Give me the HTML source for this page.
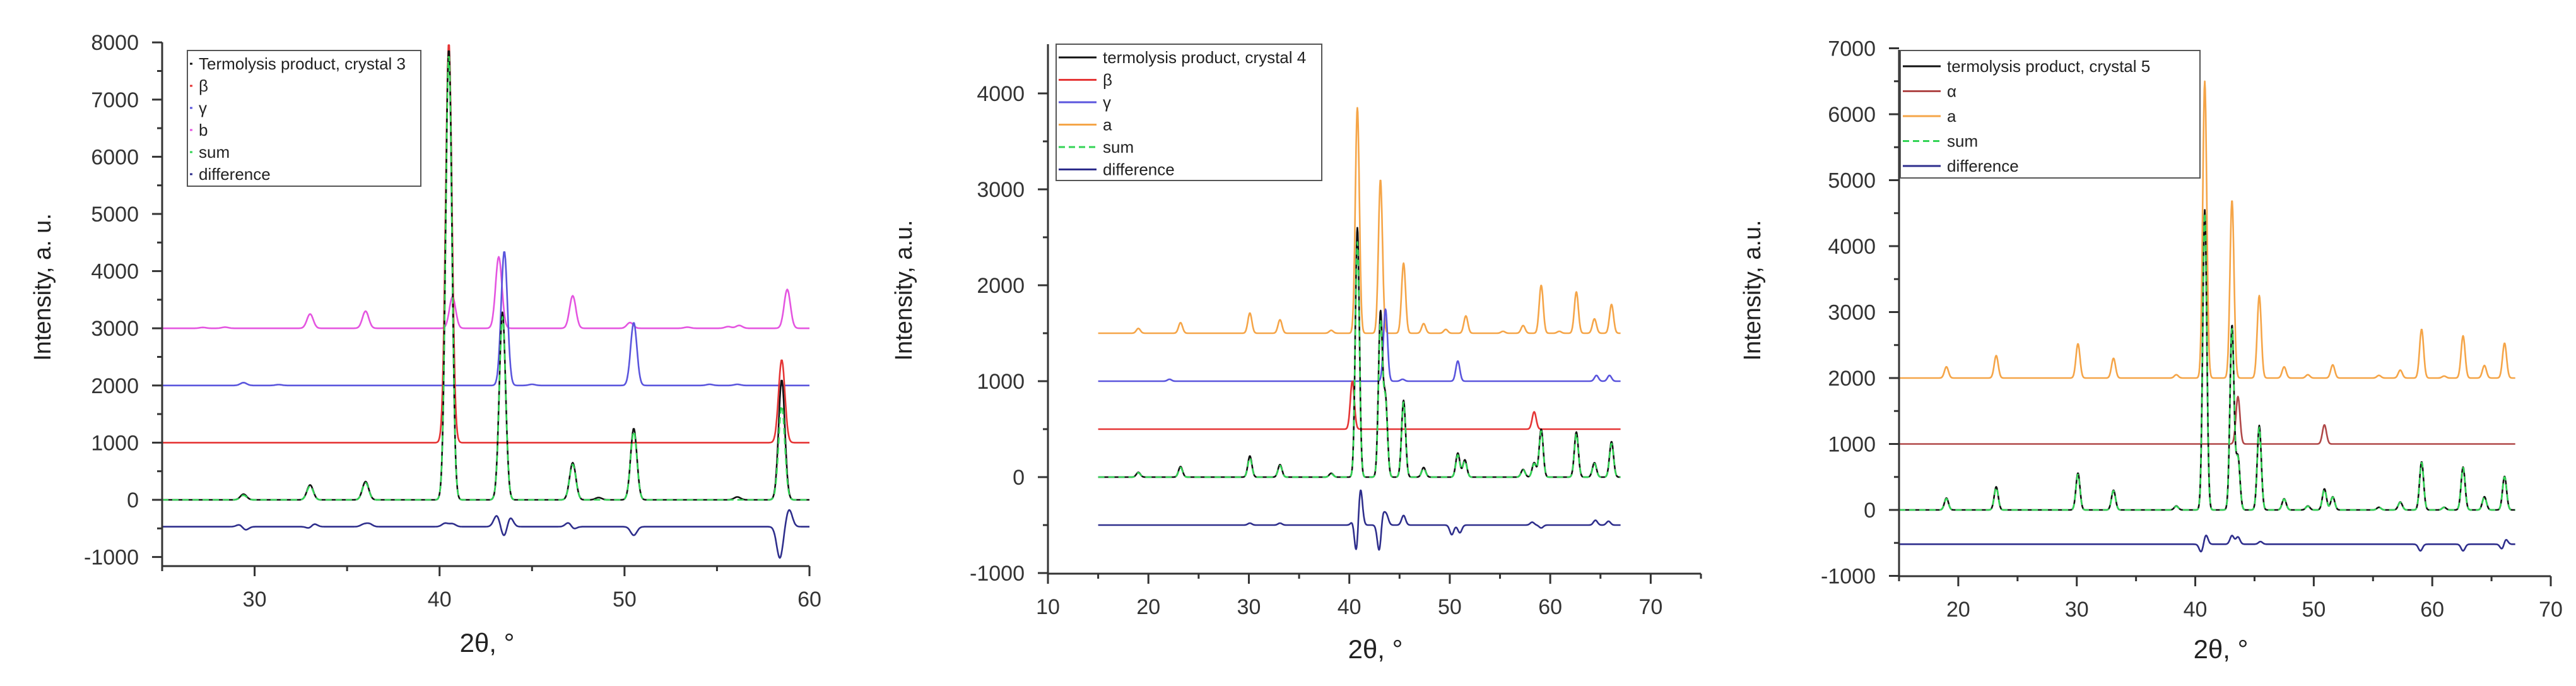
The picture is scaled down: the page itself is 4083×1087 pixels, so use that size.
<!DOCTYPE html>
<html><head><meta charset="utf-8"><style>
html,body{margin:0;padding:0;background:#fff;}
svg{display:block;font-family:"Liberation Sans",sans-serif;}
</style></head><body>
<svg id="fig" width="4083" height="1087" viewBox="0 0 4083 1087" xmlns="http://www.w3.org/2000/svg"></svg>
<script>
// ---- Panel 1 data (peak position deg, height) ----
const p1_b_pos=[27.2,28.4,33,36,40.7,43.2,47.2,50.3,53.4,55.6,56.2,58.8];
const p1_b_h=[15,20,250,300,550,1250,570,100,20,30,50,680];
const p1_g_pos=[29.4,31.3,43.5,45,50.5,54.6,56.1];
const p1_g_h=[50,15,2350,20,1100,20,20];
const p1_beta_pos=[40.5,58.5];
const p1_beta_h=[7000,1450];
const p1_exp_pos=[29.4,33,36,40.5,43.4,47.2,48.6,50.5,56.1,58.5];
const p1_exp_h=[100,260,320,7900,3280,650,40,1250,50,2100];
const p1_sum_pos=[29.4,33,36,40.5,43.4,47.2,50.5,58.5];
const p1_sum_h=[80,240,300,7800,3200,620,1200,1650];
const p1_diff_pos=[29.2,29.5,33,33.2,35.9,36.2,40.3,40.7,43.1,43.5,43.8,47,47.2,50.5,58.4,58.9];
const p1_diff_h=[40,-60,-40,60,40,50,60,50,200,-200,180,90,-60,-150,-550,300];
// ---- Panel 2 data ----
const p2_a_pos=[19,23.2,30.1,33.1,38.2,40.8,43.1,45.4,47.4,49.6,51.6,55.3,57.3,59.1,60.9,62.6,64.4,66.1];
const p2_a_h=[50,110,210,140,30,2350,1600,730,100,40,180,20,80,500,20,430,150,300];
const p2_g_pos=[22.1,43.6,45.3,50.8,64.6,65.9];
const p2_g_h=[20,750,20,210,60,60];
const p2_beta_pos=[40.3,58.4];
const p2_beta_h=[500,180];
const p2_exp_pos=[19,23.2,30.1,33.1,38.2,40.8,43.1,43.6,45.4,47.4,50.8,51.5,57.3,58.4,59.1,62.6,64.4,66.1];
const p2_exp_h=[50,110,220,130,40,2600,1700,800,800,100,250,180,80,150,500,470,150,370];
const p2_sum_pos=[19,23.2,30.1,33.1,38.2,40.8,43.1,43.6,45.4,47.4,50.8,51.5,57.3,58.4,59.1,62.6,64.4,66.1];
const p2_sum_h=[45,100,200,120,35,2450,1600,780,780,90,230,170,75,140,480,450,140,350];
const p2_diff_pos=[30.1,33.1,40.4,40.7,41.1,43,43.3,43.7,45.4,50.2,51,58.2,59.1,64.5,65.8];
const p2_diff_h=[20,20,60,-320,400,-300,150,100,100,-100,-80,30,-30,50,40];
// ---- Panel 3 data ----
const p3_a_pos=[19,23.2,30.1,33.1,38.4,40.8,43.1,45.4,47.5,49.5,51.6,55.5,57.3,59.1,61,62.6,64.4,66.1];
const p3_a_h=[170,340,520,300,50,4500,2700,1250,170,50,200,40,120,740,30,640,190,530];
const p3_alpha_pos=[43.6,50.9];
const p3_alpha_h=[720,290];
const p3_exp_pos=[19,23.2,30.1,33.1,38.4,40.8,43.1,43.6,45.4,47.5,49.5,50.9,51.6,55.5,57.3,59.1,61,62.6,64.4,66.1];
const p3_exp_h=[180,350,560,300,60,4550,2800,800,1280,170,60,320,200,40,120,730,40,650,200,510];
const p3_sum_pos=[19,23.2,30.1,33.1,38.4,40.8,43.1,43.6,45.4,47.5,49.5,50.9,51.6,55.5,57.3,59.1,61,62.6,64.4,66.1];
const p3_sum_h=[170,340,540,290,55,4500,2750,780,1250,165,55,310,195,38,115,720,38,640,195,500];
const p3_diff_pos=[40.5,40.9,43.1,43.6,45.5,59,62.6,65.9,66.2];
const p3_diff_h=[-120,140,130,110,40,-100,-100,-80,80];

const NS="http://www.w3.org/2000/svg";
const svg=document.getElementById('fig');
function mk(tag,attrs,parent){const e=document.createElementNS(NS,tag);for(const k in attrs)e.setAttribute(k,attrs[k]);(parent||svg).appendChild(e);return e;}

function drawPanel(P){
  const g=mk('g',{});
  
  
  const X=v=>P.x0+(v-P.xmin)/(P.xmax-P.xmin)*(P.x1-P.x0);
  const Y=v=>P.yz-v*P.ypk;
  P.series.forEach(s=>{
    let d='';
    for(let x=s.from;x<=s.to+1e-9;x+=0.04){
      let y=s.base;
      for(let i=0;i<s.pos.length;i++){const dx=x-s.pos[i];y+=s.h[i]*Math.exp(-dx*dx/(2*P.sig*P.sig));}
      d+=(d?'L':'M')+X(x).toFixed(1)+' '+Y(y).toFixed(1);
    }
    const p=mk('path',{d:d,fill:'none',stroke:s.color,'stroke-width':s.w||2.6,'stroke-linejoin':'round'},g);
    if(s.dash)p.setAttribute('stroke-dasharray',s.dash);
    
    
  });
  const ax=mk('g',{stroke:'#333','stroke-width':3},g);
  
  
  mk('line',{x1:P.x0,y1:P.ytop,x2:P.x0,y2:P.ybot},ax);
  mk('line',{x1:P.x0,y1:P.ybot,x2:P.x1,y2:P.ybot},ax);
  for(let v=P.ytmin;v<=P.ytmax+1;v+=P.ystep/2){
    const major=Math.abs(v/P.ystep-Math.round(v/P.ystep))<1e-6;
    mk('line',{x1:P.x0-(major?16:8),y1:Y(v),x2:P.x0,y2:Y(v)},ax);
    if(major){const t=mk('text',{x:P.x0-37,y:Y(v)+12,'text-anchor':'end','font-size':34,fill:'#333',stroke:'none'},g);t.textContent=String(v);
      
      }
  }
  for(let v=P.xtmin;v<=P.xmax+1e-9;v+=P.xstep/2){
    const major=Math.abs(v/P.xstep-Math.round(v/P.xstep))<1e-6;
    mk('line',{x1:X(v),y1:P.ybot,x2:X(v),y2:P.ybot+(major?16:8)},ax);
    if(major&&v>=P.xlab0){const t=mk('text',{x:X(v),y:P.ybot+64,'text-anchor':'middle','font-size':34,fill:'#333',stroke:'none'},g);t.textContent=String(v);
      
      }
  }
  const xt=mk('text',{x:P.xlx,y:P.xly,'text-anchor':'middle','font-size':42,fill:'#222'},g);
  xt.textContent='2θ, °';
  
  
  const yt=mk('text',{x:0,y:0,'text-anchor':'middle','font-size':38,fill:'#222',transform:`translate(${P.ylx},${P.yly}) rotate(-90)`},g);
  yt.textContent=P.ylabel;
  
  
  const L=P.leg;
  const lg=mk('g',{},g);
  
  
  mk('rect',{x:L.x,y:L.y,width:L.w,height:L.h,fill:'#fff',stroke:'#555','stroke-width':2},lg);
  L.items.forEach((it,i)=>{
    const yy=L.y0+i*L.dy;
    const ln=mk('line',{x1:L.x+4,y1:yy,x2:L.x+4+L.sw,y2:yy,stroke:it[1],'stroke-width':3},lg);
    if(it[2])ln.setAttribute('stroke-dasharray',it[2]);
    const t=mk('text',{x:L.x+L.sw+14,y:yy+9,'font-size':26,fill:'#222'},lg);
    t.textContent=it[0];
    
    
  });
}

const BLK='#111',RED='#e53535',BLU='#5a55dd',MAG='#e455e0',ORA='#f5a548',GRN='#33d455',DIF='#2e2e8c',ALP='#b04848';
drawPanel({name:'panel-crystal-3',x0:257,x1:1283,xmin:25,xmax:60,yz:792,ypk:0.0906,ytop:67,ybot:897,ytmin:-1000,ytmax:8000,ystep:1000,xtmin:25,xstep:10,xlab0:30,sig:0.17,
  xlx:772,xly:1033,ylx:80,yly:455,ylabel:'Intensity, a. u.',
  series:[
   {id:'b',pos:p1_b_pos,h:p1_b_h,base:3000,from:25,to:60,color:MAG},
   {id:'gamma',pos:p1_g_pos,h:p1_g_h,base:2000,from:25,to:60,color:BLU},
   {id:'beta',pos:p1_beta_pos,h:p1_beta_h,base:1000,from:25,to:60,color:RED},
   {id:'experiment',pos:p1_exp_pos,h:p1_exp_h,base:0,from:25,to:60,color:BLK},
   {id:'sum',pos:p1_sum_pos,h:p1_sum_h,base:0,from:25,to:60,color:GRN,dash:'10 6'},
   {id:'difference',pos:p1_diff_pos,h:p1_diff_h,base:-470,from:25,to:60,color:DIF}],
  leg:{x:297,y:80,w:370,h:215,y0:101,dy:35,sw:4,items:[['Termolysis product, crystal 3',BLK],['β',RED],['γ',BLU],['b',MAG],['sum',GRN],['difference',DIF]]}});
drawPanel({name:'panel-crystal-4',x0:1661,x1:2696,xmin:10,xmax:75,yz:756,ypk:0.152,ytop:70,ybot:909,ytmin:-1000,ytmax:4000,ystep:1000,xtmin:10,xstep:10,xlab0:10,sig:0.2,
  xlx:2180,xly:1043,ylx:1445,yly:460,ylabel:'Intensity, a.u.',
  series:[
   {id:'a',pos:p2_a_pos,h:p2_a_h,base:1500,from:15,to:67,color:ORA},
   {id:'gamma',pos:p2_g_pos,h:p2_g_h,base:1000,from:15,to:67,color:BLU},
   {id:'beta',pos:p2_beta_pos,h:p2_beta_h,base:500,from:15,to:67,color:RED},
   {id:'experiment',pos:p2_exp_pos,h:p2_exp_h,base:0,from:15,to:67,color:BLK},
   {id:'sum',pos:p2_sum_pos,h:p2_sum_h,base:0,from:15,to:67,color:GRN,dash:'10 6'},
   {id:'difference',pos:p2_diff_pos,h:p2_diff_h,base:-500,from:15,to:67,color:DIF}],
  leg:{x:1674,y:70,w:421,h:216,y0:91,dy:35.5,sw:60,items:[['termolysis product, crystal 4',BLK],['β',RED],['γ',BLU],['a',ORA],['sum',GRN,'10 6'],['difference',DIF]]}});
drawPanel({name:'panel-crystal-5',x0:3010,x1:4043,xmin:15,xmax:70,yz:808,ypk:0.1045,ytop:79,ybot:913,ytmin:-1000,ytmax:7000,ystep:1000,xtmin:15,xstep:10,xlab0:20,sig:0.17,
  xlx:3520,xly:1043,ylx:2790,yly:460,ylabel:'Intensity, a.u.',
  series:[
   {id:'a',pos:p3_a_pos,h:p3_a_h,base:2000,from:15,to:67,color:ORA},
   {id:'alpha',pos:p3_alpha_pos,h:p3_alpha_h,base:1000,from:15,to:67,color:ALP},
   {id:'experiment',pos:p3_exp_pos,h:p3_exp_h,base:0,from:15,to:67,color:BLK},
   {id:'sum',pos:p3_sum_pos,h:p3_sum_h,base:0,from:15,to:67,color:GRN,dash:'10 6'},
   {id:'difference',pos:p3_diff_pos,h:p3_diff_h,base:-520,from:15,to:67,color:DIF}],
  leg:{x:3012,y:80,w:475,h:202,y0:105,dy:39.5,sw:60,items:[['termolysis product, crystal 5',BLK],['α',ALP],['a',ORA],['sum',GRN,'10 6'],['difference',DIF]]}});
</script>
</body></html>
